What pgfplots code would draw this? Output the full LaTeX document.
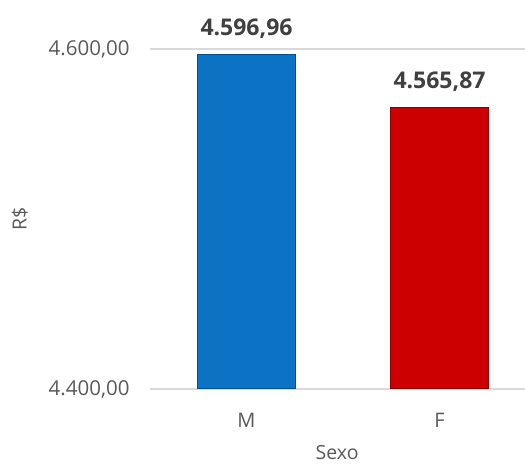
\documentclass[border=0pt]{standalone}
\usepackage{pgfplots}
\pgfplotsset{compat=1.18}
\usepackage{fontspec}
\setmainfont{Open Sans}
\definecolor{txt}{HTML}{595959}
\definecolor{lbl}{HTML}{404040}
\definecolor{grid}{HTML}{D9D9D9}
\definecolor{barblue}{HTML}{0B72C4}
\definecolor{edgeblue}{HTML}{04508C}
\definecolor{barred}{HTML}{CC0000}
\definecolor{edgered}{HTML}{8C0000}
\begin{document}
\begin{tikzpicture}[x=1pt,y=1pt]
\useasboundingbox (0,0) rectangle (525,465);
\begin{axis}[
  scale only axis,
  width=375pt, height=389pt,
  at={(150pt,76pt)}, anchor=south west,
  xmin=-0.5, xmax=1.443,
  ymin=4400, ymax=4628.82,
  ybar, bar width=98pt, bar shift=0pt,
  axis line style={draw=none},
  major tick length=0pt,
  ytick={4400,4600},
  xtick={0,1}, xticklabels={M,F},
  ymajorgrids, major grid style={color=grid, line width=1.6pt},
  /pgf/number format/assume math mode=true,
  yticklabel={\pgfmathprintnumber[fixed,fixed zerofill,precision=2,use comma,1000 sep={.}]{\tick}},
  yticklabel style={font=\fontsize{20.5}{25}\selectfont, text=txt, anchor=east, xshift=-17pt},
  xticklabel style={font=\fontsize{20}{24}\selectfont, text=txt, anchor=base, yshift=-39pt},
  xlabel={Sexo}, ylabel={R\$},
  xlabel style={font=\fontsize{19.5}{23}\selectfont, text=txt, at={(axis description cs:0.499,-0.181)}, anchor=base, inner sep=1pt},
  ylabel style={font=\fontsize{19.5}{23}\selectfont, text=txt, at={(axis description cs:-0.347,0.437)}, anchor=center},
  nodes near coords={\pgfmathprintnumber[fixed,fixed zerofill,precision=2,use comma,1000 sep={.}]{\pgfplotspointmeta}},
  every node near coord/.append style={font=\bfseries\fontsize{23}{27}\selectfont, text=lbl, anchor=base, yshift=19pt},
  clip=false,
]
\addplot[fill=barblue, draw=edgeblue, line width=1pt] coordinates {(0,4596.96)};
\addplot[fill=barred, draw=edgered, line width=1pt] coordinates {(1,4565.87)};
\end{axis}
\end{tikzpicture}
\end{document}
